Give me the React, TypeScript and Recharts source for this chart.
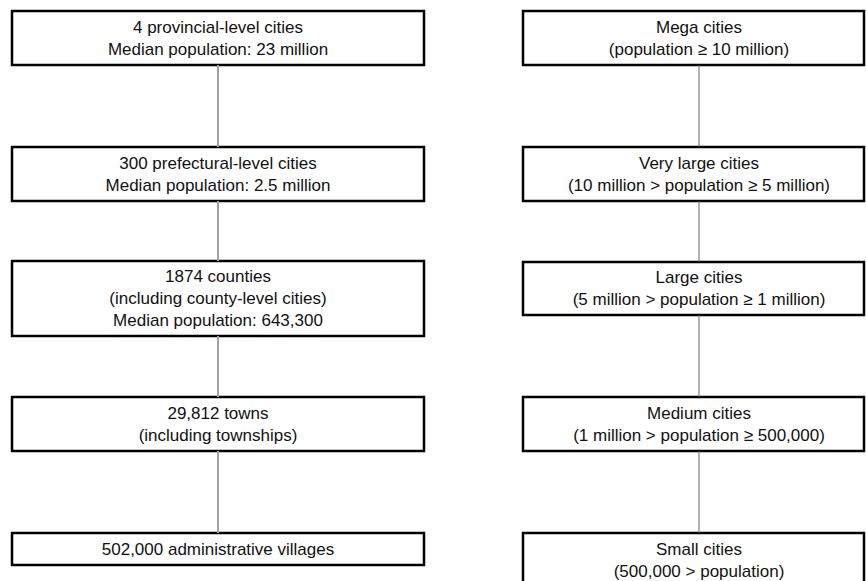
import React from 'react';
import { ComposedChart, XAxis, YAxis, Scatter, ReferenceArea, ReferenceLine } from 'recharts';

// Box texts, top tier to bottom tier
const leftLabels: string[][] = [
    ['4 provincial-level cities', 'Median population: 23 million'],
    ['300 prefectural-level cities', 'Median population: 2.5 million'],
    ['1874 counties', '(including county-level cities)', 'Median population: 643,300'],
    ['29,812 towns', '(including townships)'],
    ['502,000 administrative villages'],
];

const rightLabels: string[][] = [
    ['Mega cities', '(population ≥ 10 million)'],
    ['Very large cities', '(10 million > population ≥ 5 million)'],
    ['Large cities', '(5 million > population ≥ 1 million)'],
    ['Medium cities', '(1 million > population ≥ 500,000)'],
    ['Small cities', '(500,000 > population)'],
];

// Diagram layout in axis units (one unit = one pixel)
const W = 866;
const H = 581;
const leftCol = { x1: 12, x2: 424, cx: 218 };
const rightCol = { x1: 523, x2: 864, cx: 699 };
const leftRows = [[11, 65], [147, 201], [261, 336], [397, 451], [533, 565]];
const rightRows = [[11, 65], [147, 201], [262, 315], [397, 451], [533, 587]];

const LINE_H = 22;

const buildPoints = (labels: string[][], rows: number[][], cx: number) =>
    labels.map((lines, i) => ({ x: cx, y: (rows[i][0] + rows[i][1]) / 2, lines }));

const leftPoints = buildPoints(leftLabels, leftRows, leftCol.cx);
const rightPoints = buildPoints(rightLabels, rightRows, rightCol.cx);

const BoxText = (props: any) => {
    const { cx, cy, payload } = props;
    const lines: string[] = payload.lines;
    return (
        <text
            x={cx}
            textAnchor="middle"
            fontFamily="'Liberation Sans', Arial, sans-serif"
            fontSize={17}
            fill="#111"
        >
            {lines.map((line, i) => (
                <tspan key={i} x={cx} y={cy + (i - (lines.length - 1) / 2) * LINE_H} dominantBaseline="central">
                    {line}
                </tspan>
            ))}
        </text>
    );
};

export default function App() {
    return (
        <div style={{ position: 'absolute', left: 0, top: 0, background: '#fff' }}>
            <ComposedChart width={W} height={H} margin={{ top: 0, right: 0, bottom: 0, left: 0 }}>
                <XAxis type="number" dataKey="x" domain={[0, W]} hide />
                <YAxis type="number" dataKey="y" domain={[0, H]} reversed hide />

                {/* connectors */}
                {leftRows.slice(1).map((row, i) => (
                    <ReferenceLine
                        key={`lc-${i}`}
                        segment={[{ x: leftCol.cx, y: leftRows[i][1] }, { x: leftCol.cx, y: row[0] }]}
                        stroke="#a0a0a0"
                        strokeWidth={2}
                        ifOverflow="visible"
                    />
                ))}
                {rightRows.slice(1).map((row, i) => (
                    <ReferenceLine
                        key={`rc-${i}`}
                        segment={[{ x: rightCol.cx, y: rightRows[i][1] }, { x: rightCol.cx, y: row[0] }]}
                        stroke="#666"
                        strokeWidth={1}
                        ifOverflow="visible"
                    />
                ))}

                {/* boxes */}
                {leftRows.map((row, i) => (
                    <ReferenceArea
                        key={`lb-${i}`}
                        x1={leftCol.x1}
                        x2={leftCol.x2}
                        y1={row[0]}
                        y2={row[1]}
                        fill="#fff"
                        fillOpacity={1}
                        stroke="#000"
                        strokeWidth={2.5}
                        ifOverflow="hidden"
                    />
                ))}
                {rightRows.map((row, i) => (
                    <ReferenceArea
                        key={`rb-${i}`}
                        x1={rightCol.x1}
                        x2={rightCol.x2}
                        y1={row[0]}
                        y2={row[1]}
                        fill="#fff"
                        fillOpacity={1}
                        stroke="#000"
                        strokeWidth={2.5}
                        ifOverflow="hidden"
                    />
                ))}

                <Scatter data={leftPoints} shape={BoxText} isAnimationActive={false} />
                <Scatter data={rightPoints} shape={BoxText} isAnimationActive={false} />
            </ComposedChart>
        </div>
    );
}
